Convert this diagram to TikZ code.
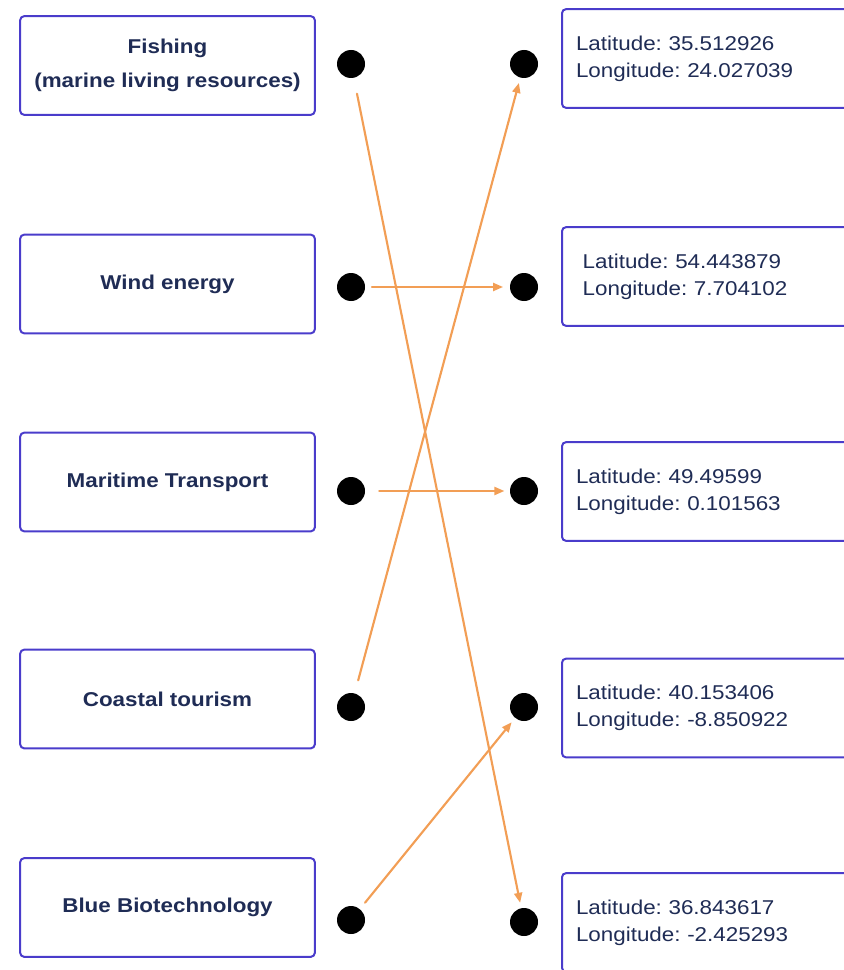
\documentclass[tikz,border=0pt]{standalone}
\usepackage{fontspec}
\setmainfont{Liberation Sans}[FakeStretch=1.12]
\usepackage{xcolor}
\usetikzlibrary{arrows.meta}

\definecolor{boxblue}{HTML}{4A3CCB}
\definecolor{txtnavy}{HTML}{1F2C55}
\definecolor{linkorange}{HTML}{F29E55}

\frenchspacing

\begin{document}
\begin{tikzpicture}[x=0.75pt, y=-0.75pt,
		line cap=round, line join=round,
		sector/.style={draw=boxblue, line width=1.5pt, rounded corners=3pt,
				minimum width=221pt, minimum height=74pt, align=center,
				text=txtnavy, font=\fontsize{15}{20}\selectfont\bfseries},
		place/.style={draw=boxblue, line width=1.5pt, rounded corners=3pt,
				anchor=west, text width=200pt, inner xsep=10.5pt,
				minimum height=74pt, align=left,
				text=txtnavy, font=\fontsize{15}{20}\selectfont},
		pin/.style={circle, fill=black, minimum size=21pt, inner sep=0pt},
		link/.style={draw=linkorange, line width=1.6pt,
				-{Triangle[length=7.5pt,width=6pt]}}]

	\useasboundingbox (0,0) rectangle (843,970);

	% ---- settori (colonna di sinistra) ----
	\node[sector] (fish)  at (167.5,65.5) {Fishing\\[6pt](marine living resources)};
	\node[sector] (wind)  at (167.5,284)  {Wind energy};
	\node[sector] (trans) at (167.5,482)  {Maritime Transport};
	\node[sector] (coast) at (167.5,699)  {Coastal tourism};
	\node[sector] (biot)  at (167.5,907.5) {Blue Biotechnology};

	% ---- coordinate (colonna di destra) ----
	\node[place] (pos1) at (561,58.5)  {Latitude: 35.512926\\Longitude: 24.027039};
	\node[place] (pos2) at (561,276.5) {\hspace*{5pt}Latitude: 54.443879\\\hspace*{5pt}Longitude: 7.704102};
	\node[place] (pos3) at (561,491.5) {Latitude: 49.49599\\Longitude: 0.101563};
	\node[place] (pos4) at (561,708)   {Latitude: 40.153406\\Longitude: -8.850922};
	\node[place] (pos5) at (561,922.5) {Latitude: 36.843617\\Longitude: -2.425293};

	% ---- punti di aggancio ----
	\foreach \y [count=\i] in {64,287,491,707,920}
	\node[pin] (ld\i) at (351,\y) {};
	\foreach \y [count=\i] in {64,287,491,707,922}
	\node[pin] (rd\i) at (524,\y) {};

	% ---- collegamenti ----
	\draw[link, shorten <=12pt,   shorten >=4pt] (ld1) -- (rd5);
	\draw[link, shorten <=5pt,    shorten >=5pt] (ld2) -- (rd2);
	\draw[link, shorten <=10.5pt, shorten >=4pt] (ld3) -- (rd3);
	\draw[link, shorten <=10pt,   shorten >=4pt] (ld4) -- (rd1);
	\draw[link, shorten <=6pt,    shorten >=4pt] (ld5) -- (rd4);

\end{tikzpicture}
\end{document}
